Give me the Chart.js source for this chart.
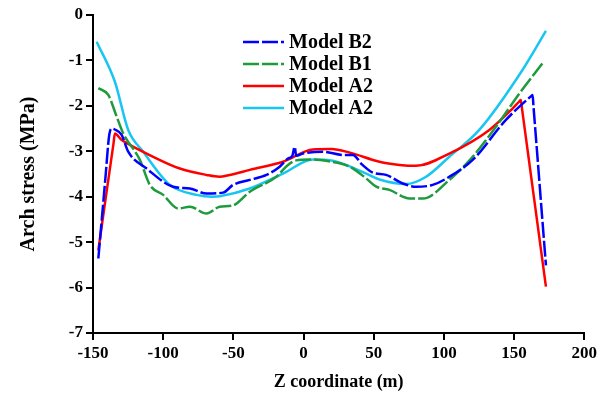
<!DOCTYPE html>
<html>
<head>
<meta charset="utf-8">
<script src="https://cdn.jsdelivr.net/npm/chart.js@4.4.1/dist/chart.umd.min.js"></script>
<style>
  body { margin: 0; background: #fff; }
  canvas { display: block; }
</style>
</head>
<body>
<canvas id="chart" width="600" height="398"></canvas>
<script>
// Series: z coordinate (m) and arch stress (MPa)
const b2Z = [-146.2, -143.6, -141, -138.6, -136.8, -134.5, -129.6, -124.9, -111.8, -92.9, -81, -69.1, -57.3, -50.2, -38.3, -26.4, -17, -11.1, -8, -6.3, -5.2, -0.4, 13.8, 28, 35.1, 42, 49.4, 58.8, 70.7, 80.2, 92, 103.9, 120.5, 144.2, 162.4, 163.2, 163.9, 166.4, 169.5, 172.7];
const b2Stress = [-5.36, -4.45, -3.53, -2.68, -2.50, -2.52, -2.64, -3.01, -3.38, -3.78, -3.82, -3.93, -3.91, -3.74, -3.63, -3.52, -3.34, -3.16, -3.10, -2.90, -3.10, -3.05, -3.01, -3.08, -3.08, -3.30, -3.47, -3.52, -3.71, -3.78, -3.74, -3.56, -3.19, -2.31, -1.78, -1.76, -2.04, -3.02, -4.25, -5.51];

const b1Z = [-146.2, -139.1, -133.1, -128.4, -116.6, -109.5, -100, -89.3, -81, -69.1, -59.7, -50.2, -38.3, -19.4, -11.1, -5.2, 4.3, 16.1, 33, 44.7, 51.8, 61.2, 75.5, 84.9, 103.9, 120.5, 137.1, 153.7, 170.3];
const b1Stress = [-1.61, -1.76, -2.24, -2.61, -3.19, -3.74, -3.96, -4.26, -4.22, -4.37, -4.22, -4.19, -3.89, -3.56, -3.30, -3.20, -3.18, -3.21, -3.34, -3.60, -3.78, -3.85, -4.04, -4.04, -3.63, -3.12, -2.46, -1.73, -1.06];

const a2Z = [-146.2, -142.3, -138.3, -135.4, -134.4, -130, -123.7, -111.8, -88.1, -69.1, -60, -52.6, -38.3, -14.6, 6.7, 20, 33, 54.1, 68.4, 80.2, 103.9, 132.4, 148.9, 153.8, 154.8, 155.6, 160, 166, 172.7];
const a2Stress = [-5.18, -4.32, -3.46, -2.83, -2.61, -2.74, -2.86, -3.05, -3.38, -3.52, -3.56, -3.52, -3.41, -3.23, -2.96, -2.95, -3.03, -3.23, -3.30, -3.32, -3.05, -2.53, -2.06, -1.90, -1.87, -2.05, -3.06, -4.44, -5.98];

const a2bZ = [-147.4, -134.4, -124.9, -114.2, -95.2, -76.2, -65, -59.7, -38.3, -14.6, 6.7, 20.9, 44.7, 54.1, 73.1, 87.3, 103.9, 125.2, 156, 172.7];
const a2bStress = [-0.59, -1.47, -2.53, -3.01, -3.74, -3.96, -4.00, -3.99, -3.82, -3.49, -3.18, -3.21, -3.49, -3.62, -3.72, -3.56, -3.12, -2.53, -1.21, -0.35];

const seriesLabels = ['Model B2', 'Model B1', 'Model A2', 'Model A2'];
const xTicks = [-150, -100, -50, 0, 50, 100, 150, 200];
const yTicks = [0, -1, -2, -3, -4, -5, -6, -7];

const serif = "'Liberation Serif', 'Times New Roman', serif";

function toPoints(xs, ys) {
    return xs.map((x, i) => ({ x: x, y: ys[i] }));
}

// Legend drawn inside the plot area, like the original figure
const insideLegend = {
    id: 'insideLegend',
    afterDatasetsDraw(chart) {
        const ctx = chart.ctx;
        ctx.save();
        chart.data.datasets.forEach((ds, i) => {
            const y = 42 + i * 22;
            ctx.strokeStyle = ds.borderColor;
            ctx.lineWidth = ds.borderWidth;
            ctx.setLineDash(ds.borderDash || []);
            ctx.beginPath();
            ctx.moveTo(243, y);
            ctx.lineTo(284, y);
            ctx.stroke();
            ctx.setLineDash([]);
            ctx.fillStyle = '#000';
            ctx.font = 'bold 20px ' + serif;
            ctx.textBaseline = 'middle';
            ctx.textAlign = 'left';
            ctx.fillText(ds.label, 289, y + 1);
        });
        ctx.restore();
    }
};

const ctx = document.getElementById('chart').getContext('2d');
new Chart(ctx, {
    type: 'line',
    data: {
        datasets: [
            { label: seriesLabels[0], data: toPoints(b2Z, b2Stress), borderColor: '#0000ff', borderWidth: 2.5, borderDash: [16, 3] },
            { label: seriesLabels[1], data: toPoints(b1Z, b1Stress), borderColor: '#1e9b3c', borderWidth: 2.5, borderDash: [16, 3] },
            { label: seriesLabels[2], data: toPoints(a2Z, a2Stress), borderColor: '#ff0000', borderWidth: 2.5 },
            { label: seriesLabels[3], data: toPoints(a2bZ, a2bStress), borderColor: '#19c6f2', borderWidth: 2.5 }
        ]
    },
    options: {
        responsive: false,
        animation: false,
        devicePixelRatio: 1,
        layout: { padding: { top: 15, right: 15, left: 0, bottom: 0 } },
        elements: {
            point: { radius: 0 },
            line: { cubicInterpolationMode: 'monotone', fill: false }
        },
        plugins: {
            legend: { display: false },
            tooltip: { enabled: false }
        },
        scales: {
            x: {
                type: 'linear',
                min: -150,
                max: 200,
                afterBuildTicks: axis => { axis.ticks = xTicks.map(v => ({ value: v })); },
                afterFit: axis => { axis.height = 65; },
                border: { color: '#000', width: 2 },
                grid: { drawOnChartArea: false, drawTicks: true, tickLength: 7, color: '#000', lineWidth: 2 },
                ticks: {
                    color: '#000',
                    padding: 3,
                    maxRotation: 0,
                    font: { family: serif, size: 17, weight: 'bold' }
                },
                title: {
                    display: true,
                    text: 'Z coordinate (m)',
                    color: '#000',
                    padding: { top: 0, bottom: 5 },
                    font: { family: serif, size: 18, weight: 'bold' }
                }
            },
            y: {
                type: 'linear',
                min: -7,
                max: 0,
                afterBuildTicks: axis => { axis.ticks = yTicks.map(v => ({ value: v })); },
                afterFit: axis => { axis.width = 93; },
                border: { color: '#000', width: 2 },
                grid: { drawOnChartArea: false, drawTicks: true, tickLength: 7, color: '#000', lineWidth: 2 },
                ticks: {
                    color: '#000',
                    padding: 3,
                    font: { family: serif, size: 17, weight: 'bold' }
                },
                title: {
                    display: true,
                    text: 'Arch stress (MPa)',
                    color: '#000',
                    padding: { top: 17, bottom: 0 },
                    font: { family: serif, size: 20, weight: 'bold' }
                }
            }
        }
    },
    plugins: [insideLegend]
});
</script>
</body>
</html>
